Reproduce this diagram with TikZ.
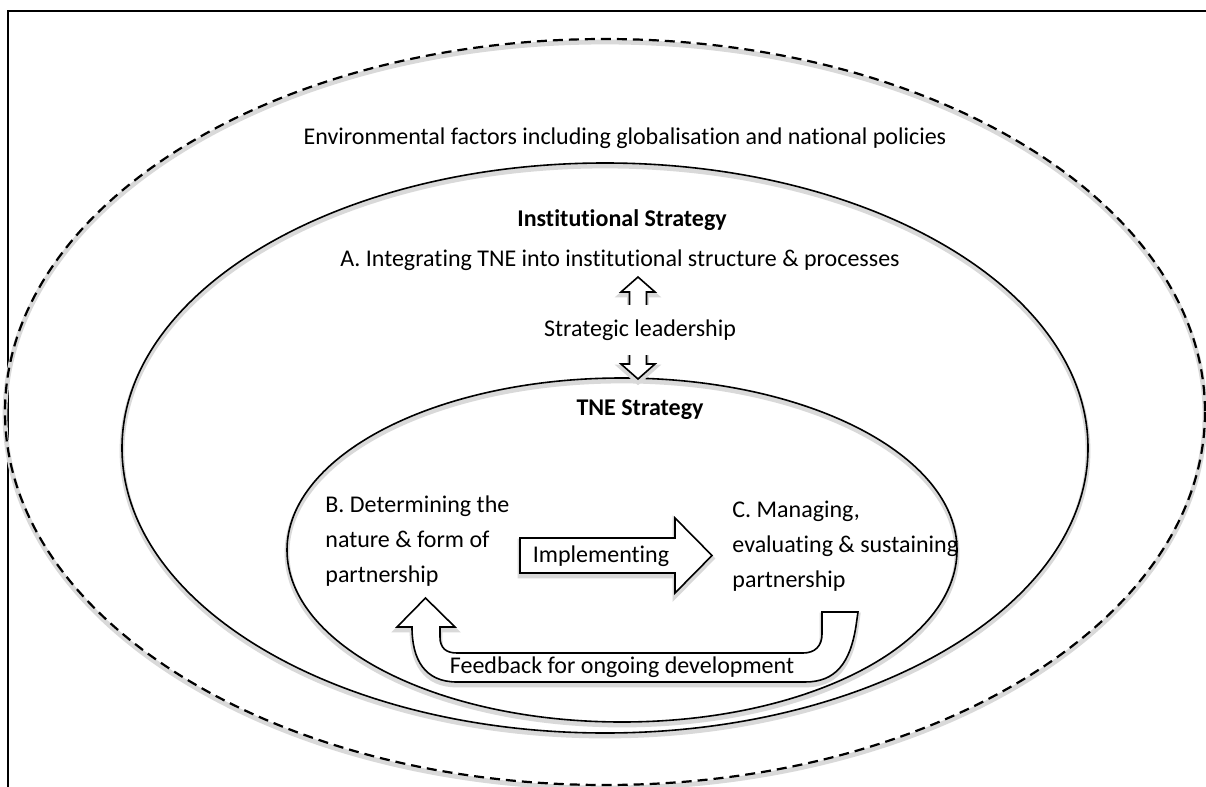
\documentclass[tikz,border=0pt]{standalone}
\usepackage{fontspec}
\setmainfont{Carlito}[Ligatures={NoCommon,NoContextual,NoRequired}, Contextuals=NoAlternate]
\usetikzlibrary{positioning}

\tikzset{
    txt/.style={font=\fontsize{12}{17.5}\selectfont, inner sep=0pt},
    boldtxt/.style={font=\fontsize{12}{17.5}\selectfont\bfseries, inner sep=0pt},
    ring/.style={draw=black, line width=0.8pt,
        preaction={draw=black!15, line width=2.4pt, transform canvas={yshift=-1.5pt}}},
    block/.style={ring, fill=white, line join=miter},
}

\begin{document}
\begin{tikzpicture}[x=0.5pt, y=-0.5pt]
    \useasboundingbox (0,0) rectangle (1206,787);
    \fill[white] (0,0) rectangle (1206,787);

    % frame
    \draw[line width=0.7pt] (8,787) |- (1206,11);

    % strategy levels
    \draw[ring, dash pattern=on 5pt off 3pt, line width=1.1pt] (605,412) ellipse [x radius=600, y radius=373];
    \draw[ring] (605,448) ellipse [x radius=483, y radius=285];
    \draw[ring] (622,550) ellipse [x radius=335, y radius=172];

    % define nodes
    \node[txt] (env) at (625,138) {Environmental factors including globalisation and national policies};
    \node[boldtxt] (inst) at (622,220) {Institutional Strategy};
    \node[txt] (integA) at (620,260) {A. Integrating TNE into institutional structure \& processes};
    \node[boldtxt] (tne) at (640,410) {TNE Strategy};
    \node[txt, align=left, anchor=west] (determB) at (325,541) {B. Determining the\\nature \& form of\\partnership};
    \node[txt, align=left, anchor=west] (manageC) at (732,546) {C. Managing,\\evaluating \& sustaining\\partnership};

    % block arrows
    \coordinate (lead_t) at (638,277);
    \coordinate (lead_b) at (638,379);
    \draw[block] (lead_t) -- ++(17,15) -- ++(-8.5,0) -- ++(0,72) -- ++(8.5,0) -- (lead_b)
        -- ++(-17,-15) -- ++(8.5,0) -- ++(0,-72) -- ++(-8.5,0) -- cycle;
    \node[txt, fill=white, minimum height=25pt, inner xsep=2pt] (lead) at (640,330) {Strategic leadership};

    \coordinate (impl_tail) at (520,555.5);
    \draw[block] (impl_tail) ++(0,-17.5) -- ++(155,0) -- ++(0,-20) -- ++(37,37.5) -- ++(-37,37.5)
        -- ++(0,-20) -- ++(-155,0) -- cycle;
    \node[txt] (impl) at (601,556) {Implementing};

    \coordinate (feed_tip) at (425.5,598);
    \draw[block] (feed_tip) -- (455,627) -- (440,627) -- (440,637) .. controls (440,648) and (446,653) .. (457,653)
        -- (803,653) .. controls (815,653) and (822,646) .. (822,634) -- (822,612) -- (858,612) -- (856,626)
        .. controls (850,664) and (835,682) .. (805,682) -- (457,682)
        .. controls (425,682) and (412,660) .. (412,627) -- (397,627) -- cycle;
    \node[txt] (feed) at (622,667) {Feedback for ongoing development};

\end{tikzpicture}
\end{document}
